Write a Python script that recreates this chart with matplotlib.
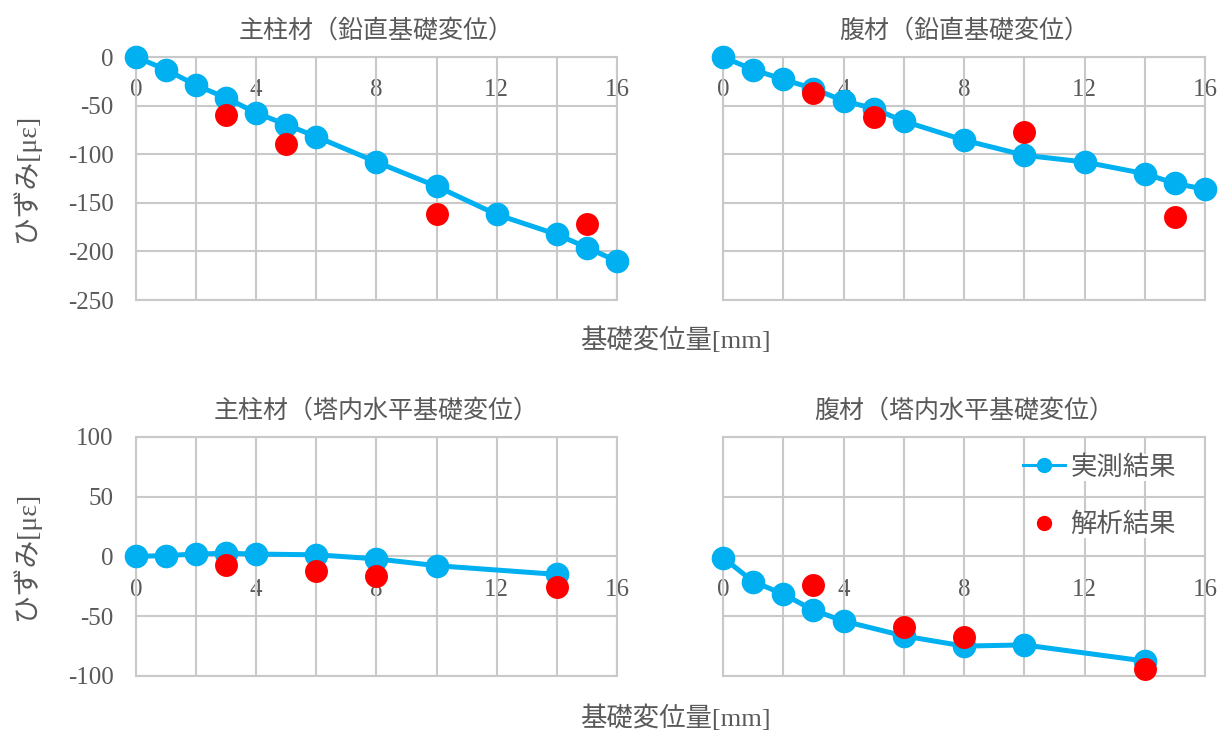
import numpy as np
import matplotlib
matplotlib.use('Agg')
import matplotlib.pyplot as plt
from matplotlib.lines import Line2D

plt.rcParams['font.family'] = ['Liberation Serif', 'Noto Sans CJK JP']
plt.rcParams['axes.unicode_minus'] = False

# 鉛直基礎変位 (主柱材)
v_main_x = [0, 1, 2, 3, 4, 5, 6, 8, 10, 12, 14, 15, 16]
v_main_meas = [0, -13, -29, -42, -57.5, -69.5, -82, -108, -133, -162, -182.5, -196, -210]
v_main_fem_x = [3, 5, 10, 15]
v_main_fem = [-60, -89, -161, -171.5]

# 鉛直基礎変位 (腹材)
v_web_x = [0, 1, 2, 3, 4, 5, 6, 8, 10, 12, 14, 15, 16]
v_web_meas = [0, -13, -23, -32.5, -45, -53, -66, -85.5, -101, -108, -120, -130, -136]
v_web_fem_x = [3, 5, 10, 15]
v_web_fem = [-37, -61.5, -77, -164.5]

# 塔内水平基礎変位 (主柱材)
h_main_x = [0, 1, 2, 3, 4, 6, 8, 10, 14]
h_main_meas = [0, 0.8, 2, 2.7, 2, 1.4, -2, -7.7, -15]
h_main_fem_x = [3, 6, 8, 14]
h_main_fem = [-7.4, -12.3, -16.4, -25.5]

# 塔内水平基礎変位 (腹材)
h_web_x = [0, 1, 2, 3, 4, 6, 8, 10, 14]
h_web_meas = [-1, -21, -31.5, -45, -54, -66.5, -75, -74, -87.5]
h_web_fem_x = [3, 6, 8, 14]
h_web_fem = [-24, -59, -67, -94]

titles = ['主柱材（鉛直基礎変位）', '腹材（鉛直基礎変位）',
          '主柱材（塔内水平基礎変位）', '腹材（塔内水平基礎変位）']

BLUE = '#00B0F0'
RED = '#FF0000'
GRID = '#C9C9C9'
TXT = '#595959'

fig = plt.figure(figsize=(12.28, 7.35), dpi=100)

boxes = [
    [0.1107, 0.5918, 0.3917, 0.3306],
    [0.5888, 0.5918, 0.3925, 0.3306],
    [0.1107, 0.0803, 0.3917, 0.3252],
    [0.5888, 0.0803, 0.3925, 0.3252],
]
panels = [
    (v_main_x, v_main_meas, v_main_fem_x, v_main_fem, (-250, 0), 50),
    (v_web_x, v_web_meas, v_web_fem_x, v_web_fem, (-250, 0), 50),
    (h_main_x, h_main_meas, h_main_fem_x, h_main_fem, (-100, 100), 50),
    (h_web_x, h_web_meas, h_web_fem_x, h_web_fem, (-100, 100), 50),
]

axes = []
for i, (box, (mx, my, fx, fy, ylim, ystep)) in enumerate(zip(boxes, panels)):
    ax = fig.add_axes(box)
    axes.append(ax)
    ax.plot(mx, my, '-o', color=BLUE, lw=3.6, ms=16, clip_on=False, zorder=3)
    ax.plot(fx, fy, 'o', color=RED, ms=15.5, lw=0, clip_on=False, zorder=4)

    ax.set_xlim(0, 16)
    ax.set_ylim(*ylim)
    ax.set_xticks(np.arange(0, 17, 2))
    ax.set_yticks(np.arange(ylim[0], ylim[1] + 1, ystep))
    ax.grid(True, color=GRID, lw=1.5, zorder=0)
    ax.set_axisbelow(True)
    ax.tick_params(axis='x', length=0, labelbottom=False)
    ax.tick_params(axis='y', length=0, labelsize=18, labelcolor=TXT, pad=16,
                   labelleft=(i % 2 == 0))
    for s in ax.spines.values():
        s.set_color(GRID)
        s.set_linewidth(1.5)

    # x 軸の目盛ラベルは y=0 の線の下に出す
    sec = ax.secondary_xaxis(0, transform=ax.transData)
    sec.set_xticks([0, 4, 8, 12, 16])
    sec.tick_params(length=0, labelsize=18, labelcolor=TXT, pad=16)
    for s in sec.spines.values():
        s.set_visible(False)

    ax.set_title(titles[i], fontsize=18, color=TXT, pad=14)

# 凡例
h1 = Line2D([], [], color=BLUE, lw=2.2, marker='o', ms=10)
h2 = Line2D([], [], color=RED, lw=0, marker='o', ms=10)
leg = axes[3].legend([h1, h2], ['実測結果', '解析結果'], loc='upper right',
                     bbox_to_anchor=(0.94, 0.925), frameon=False, fontsize=19,
                     labelcolor=TXT, handlelength=1.6, labelspacing=1.25,
                     handletextpad=0.2, borderpad=0, borderaxespad=0)
for t in leg.get_texts():
    t.set_bbox(dict(facecolor='white', edgecolor='none', pad=1))

for y in (0.5374, 0.0231):
    fig.text(0.5497, y, '基礎変位量[mm]', fontsize=19, color=TXT,
             ha='center', va='center')
for y in (0.758, 0.243):
    fig.text(0.021, y, 'ひずみ[με]', fontsize=20, color=TXT,
             ha='center', va='center', rotation=90)

fig.savefig('out.png', dpi=100)
